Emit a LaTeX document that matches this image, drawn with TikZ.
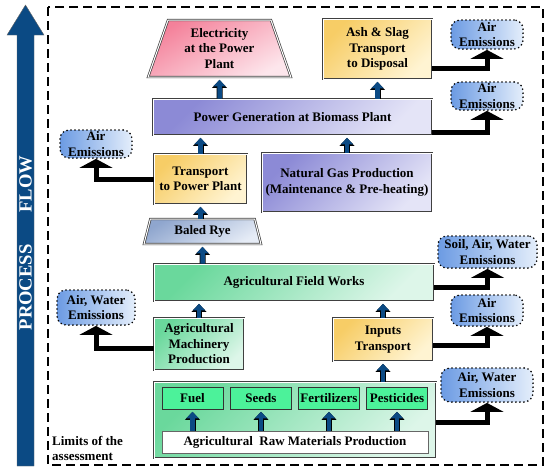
\documentclass[tikz,border=0pt]{standalone}
\usepackage{fontspec}
\setmainfont{Liberation Serif}
\usetikzlibrary{arrows.meta,shapes.geometric}
\definecolor{flowblue}{HTML}{0B4A84}
\definecolor{pinkA}{HTML}{F4819A}
\definecolor{pinkB}{HTML}{FDE6EC}
\definecolor{yelA}{HTML}{F7CD66}
\definecolor{yelB}{HTML}{FFF4D2}
\definecolor{lavA}{HTML}{8C8AD6}
\definecolor{lavB}{HTML}{E4E4F7}
\definecolor{grnA}{HTML}{6AD89C}
\definecolor{grnB}{HTML}{DDF6E9}
\definecolor{steelA}{HTML}{8FA6CE}
\definecolor{steelB}{HTML}{E6ECF6}
\definecolor{emiA}{HTML}{6C9BE3}
\definecolor{emiB}{HTML}{E4EEFB}
\definecolor{mint}{HTML}{4CF29A}
\begin{document}
\begin{tikzpicture}[
  x=1pt, y=-1pt,
  font=\fontsize{13}{15.5}\selectfont\bfseries,
  stage/.style={draw=black!75, double=white, double distance=1pt, line width=0.7pt, align=center, inner sep=2pt},
  hotbox/.style={stage, top color=pinkA, bottom color=pinkB, shading angle=30},
  yelbox/.style={stage, top color=yelA, bottom color=yelB, shading angle=45},
  lavbox/.style={stage, top color=lavA, bottom color=lavB, shading angle=45},
  grnbox/.style={stage, top color=grnA, bottom color=grnB, shading angle=45},
  steelbox/.style={stage, top color=steelA, bottom color=steelB, shading angle=30},
  emis/.style={draw=black, line width=1.8pt, dash pattern=on 0pt off 4pt, line cap=round, rounded corners=9pt,
    left color=emiA, right color=emiB, align=center, inner sep=1pt},
  input/.style={draw=black!80, line width=0.6pt, fill=mint, minimum width=61pt, minimum height=22pt, inner sep=1pt},
  feed/.style={flowblue, line width=4.5pt, shorten >=2.5pt, -{Triangle[width=12pt, length=6.5pt]},
    preaction={draw=black, line width=6pt, -{Triangle[width=14.5pt, length=8pt]}}},
  emit/.style={line width=5pt, -{Triangle[width=33pt, length=9pt]}}
]
\useasboundingbox (0,0) rectangle (550,475);
% process flow arrow
\fill[flowblue, draw=black!60, line width=0.4pt] (17,466) -- (17,35) -- (7,35) -- (25.5,5) -- (44,35) -- (34,35) -- (34,466) -- cycle;
\node[rotate=90, text=white, font=\fontsize{18.6}{20}\selectfont\bfseries] (flow) at (25.5,243) {PROCESS\hspace{32pt}FLOW};
% limits of the assessment
\draw[line width=1.6pt, dash pattern=on 9pt off 5pt] (48,7) rectangle (543,465);
\node[anchor=south west, align=left, inner sep=0pt] (limits) at (52,461) {Limits of the\\assessment};

% power plant
\node[hotbox, trapezium, trapezium stretches=true, trapezium angle=72, minimum width=143pt, minimum height=57pt] (elec) at (219.5,48.5) {Electricity\\at the Power\\Plant};
\node[yelbox, minimum width=109pt, minimum height=60pt] (ash) at (377.5,49) {Ash \& Slag\\Transport\\to Disposal};
\node[lavbox, minimum width=279pt, minimum height=36pt] (power) at (292.5,117) {Power Generation at Biomass Plant};
\node[yelbox, minimum width=93pt, minimum height=50pt] (transport) at (200.5,179) {Transport\\to Power Plant};
\node[lavbox, minimum width=170pt, minimum height=59pt] (gas) at (347,182.5) {Natural Gas Production\\(Maintenance \& Pre-heating)};
\node[steelbox, trapezium, trapezium stretches=true, trapezium angle=77, minimum width=117pt, minimum height=25pt] (rye) at (202.5,231.5) {Baled Rye};

% field
\node[grnbox, minimum width=280pt, minimum height=37pt] (field) at (294,282.5) {Agricultural Field Works};
\node[grnbox, minimum width=90pt, minimum height=52pt] (machinery) at (199,344) {Agricultural\\Machinery\\Production};
\node[yelbox, minimum width=100pt, minimum height=43pt] (inputs) at (383,339.5) {Inputs\\Transport};
\node[grnbox, minimum width=282pt, minimum height=76pt] (raw) at (295,420) {};
\node[input] (fuel) at (192.5,398) {Fuel};
\node[input] (seeds) at (261,398) {Seeds};
\node[input] (fert) at (329,398) {Fertilizers};
\node[input] (pest) at (397,398) {Pesticides};
\node[draw=black!60, line width=0.6pt, fill=white, minimum width=266pt, minimum height=22pt, inner sep=1pt] (rawtext) at (295,442) {Agricultural~ Raw Materials Production};

% emissions
\node[emis, minimum width=72pt, minimum height=29pt] (airA) at (487,34.5) {Air\\Emissions};
\node[emis, minimum width=72pt, minimum height=28pt] (airB) at (487,96) {Air\\Emissions};
\node[emis, minimum width=72pt, minimum height=28pt] (airC) at (96,144) {Air\\Emissions};
\node[emis, minimum width=99pt, minimum height=32pt] (soil) at (487.5,252) {Soil, Air, Water\\Emissions};
\node[emis, minimum width=78pt, minimum height=35pt] (airWaterL) at (96,307.5) {Air, Water\\Emissions};
\node[emis, minimum width=72pt, minimum height=31pt] (airD) at (487,310.5) {Air\\Emissions};
\node[emis, minimum width=92pt, minimum height=34pt] (airWaterR) at (487,385) {Air, Water\\Emissions};

% material flow
\draw[feed] (power.north -| elec) -- (elec.south);
\draw[feed] (power.north -| ash) -- (ash.south);
\draw[feed] (gas.north) -- (gas.north |- power.south);
\draw[feed] (transport.north) -- (transport.north |- power.south);
\draw[feed] (rye.north -| transport) -- (transport.south);
\draw[feed] (field.north -| rye) -- (rye.south);
\draw[feed] (machinery.north) -- (machinery.north |- field.south);
\draw[feed] (inputs.north) -- (inputs.north |- field.south);
\draw[feed] (raw.north -| inputs) -- (inputs.south);
\foreach \n in {fuel,seeds,fert,pest}
  \draw[feed] (rawtext.north -| \n) -- (\n.south);

% emission outputs
\draw[emit] ([yshift=-19pt]ash.east) -| (airA.south);
\draw[emit] ([yshift=-15pt]power.east) -| (airB.south);
\draw[emit] (transport.west) -| (airC.south);
\draw[emit] ([yshift=-5pt]field.east) -| (soil.south);
\draw[emit] ([yshift=-4pt]machinery.west) -| (airWaterL.south);
\draw[emit] ([yshift=-6pt]inputs.east) -| (airD.south);
\draw[emit] ([yshift=-2pt]raw.east) -| (airWaterR.south);
\end{tikzpicture}
\end{document}
